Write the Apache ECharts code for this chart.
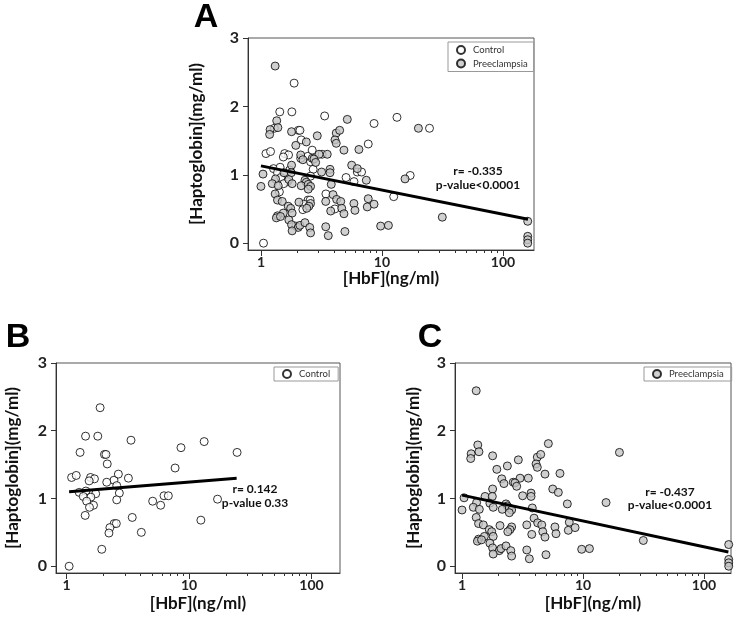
<!DOCTYPE html>
<html>
<head>
<meta charset="utf-8">
<script src="https://cdn.jsdelivr.net/npm/echarts@6/dist/echarts.min.js"></script>
<style>html,body{margin:0;padding:0;background:#fff}#c{width:738px;height:622px}</style>
</head>
<body>
<div id="c"></div>
<script>
// ---- data (HbF in ng/ml, Haptoglobin in mg/ml) ----
const ctrlHbF = [1.88,1.43,1.80,3.36,8.6,1.29,2.04,2.10,7.7,2.15,1.10,1.20,1.57,1.69,1.53,2.44,2.65,3.2,2.13,2.57,2.70,1.27,1.44,1.73,1.37,1.58,1.46,1.66,1.54,2.57,5.05,5.87,6.25,6.78,1.42,3.44,2.45,2.55,2.26,2.22,4.08,1.94,1.05,12.5,13.3,24.7,17.1];
const ctrlHp  = [2.34,1.92,1.92,1.86,1.75,1.68,1.65,1.65,1.45,1.51,1.31,1.34,1.31,1.29,1.26,1.27,1.36,1.30,1.24,1.19,1.08,1.09,1.11,1.07,1.03,1.02,0.96,0.90,0.87,0.98,0.96,0.90,1.04,1.04,0.75,0.72,0.63,0.63,0.57,0.49,0.50,0.25,0.00,0.68,1.84,1.68,0.99];
const preHbF = [1.31,1.35,5.17,1.19,1.38,1.79,2.92,4.19,4.47,1.18,4.09,4.19,2.37,1.94,4.85,6.45,3.53,3.02,2.13,2.22,2.65,2.74,2.83,1.79,5.62,6.25,3.72,3.72,3.17,1.55,1.78,1.04,1.32,1.70,2.31,2.37,7.42,1.24,1.39,1.00,1.81,2.15,2.46,2.57,2.46,3.81,1.31,1.37,1.50,1.68,1.76,1.53,1.81,1.37,1.34,1.45,1.70,2.06,2.57,2.49,2.39,3.43,3.94,4.22,4.56,3.77,4.65,4.85,5.86,5.98,7.7,7.56,8.6,1.79,2.03,2.10,2.31,2.53,2.57,1.81,3.43,3.6,4.94,9.75,11.3,20,15.5,31.5,160,160,160,160];
const preHp  = [2.59,1.79,1.81,1.66,1.69,1.63,1.57,1.61,1.65,1.59,1.51,1.46,1.48,1.43,1.36,1.37,1.30,1.30,1.29,1.22,1.24,1.23,1.18,1.14,1.14,1.09,1.08,1.03,1.04,1.03,1.03,1.01,0.94,0.93,0.92,0.89,0.92,0.87,0.84,0.83,0.87,0.84,0.86,0.83,0.79,0.86,0.72,0.63,0.61,0.54,0.51,0.44,0.44,0.40,0.37,0.39,0.34,0.60,0.58,0.54,0.51,0.61,0.71,0.64,0.61,0.47,0.51,0.43,0.58,0.48,0.65,0.53,0.57,0.27,0.23,0.26,0.30,0.23,0.15,0.18,0.24,0.11,0.17,0.25,0.26,1.68,0.94,0.38,0.32,0.10,0.05,0.00];
// regression lines: [HbF, Hp] endpoints
const fitA = [[1.0,1.13],[161,0.35]];
const fitB = [[1.05,1.10],[24.5,1.30]];
const fitC = [[1.0,1.05],[159,0.21]];
const statsA = ['r= -0.335','p-value<0.0001'];
const statsB = ['r= 0.142','p-value 0.33'];
const statsC = ['r= -0.437','p-value<0.0001'];
const panelLetters = ['A','B','C'];
const xTickLabels = [1,10,100];
const xMinorTicks = [2,3,4,5,6,7,8,9,20,30,40,50,60,70,80,90];
const yTickLabels = [0,1,2,3];
const seriesNames = ['Control','Preeclampsia'];
const xTitle = '[HbF](ng/ml)';
const yTitle = '[Haptoglobin](mg/ml)';

// ---- build ----
const lg = v => Math.log10(v);
const pts = (xs, ys) => xs.map((x,i)=>[lg(x), ys[i]]);
const fitPts = f => f.map(p=>[lg(p[0]), p[1]]);

const FONT = 'Lato';
const axisColor = '#333';
const grids = [
  {left:248, top:38, width:286, height:212, xmin:-0.107, xmax:2.256, yGap:43, xGap:17},
  {left:56,  top:363, width:284, height:210, xmin:-0.086, xmax:2.233, yGap:35, xGap:22},
  {left:455, top:363, width:276, height:210, xmin:-0.058, xmax:2.223, yGap:33, xGap:22}
];

const xAxes = [], yAxes = [];
grids.forEach((g, i) => {
  xAxes.push({
    type:'value', gridIndex:i, position:'bottom', min:g.xmin, max:g.xmax,
    axisLine:{show:true, onZero:false, lineStyle:{color:axisColor, width:1}},
    axisTick:{show:true, customValues:xTickLabels.map(lg), length:6, lineStyle:{color:axisColor}},
    axisLabel:{customValues:xTickLabels.map(lg), formatter:v=>String(Math.round(Math.pow(10,v))),
      fontFamily:FONT, fontWeight:'bold', fontSize:14, color:'#222', margin:5},
    splitLine:{show:false},
    name:xTitle, nameLocation:'middle', nameGap:g.xGap,
    nameTextStyle:{fontFamily:FONT, fontWeight:'bold', fontSize:17, color:'#111'}
  });
  yAxes.push({
    type:'value', gridIndex:i, position:'left', min:-0.1, max:3,
    axisLine:{show:true, onZero:false, lineStyle:{color:axisColor, width:1}},
    axisTick:{show:true, customValues:yTickLabels, length:5, lineStyle:{color:axisColor}},
    axisLabel:{customValues:yTickLabels, fontFamily:FONT, fontWeight:'bold', fontSize:16, color:'#222', margin:9},
    splitLine:{show:false},
    name:yTitle, nameLocation:'middle', nameGap:g.yGap, nameRotate:90,
    nameTextStyle:{fontFamily:FONT, fontWeight:'bold', fontSize:17, color:'#111'}
  });
});
grids.forEach((g, i) => {
  const minor = xMinorTicks.map(lg).filter(v => v > g.xmin && v < g.xmax);
  xAxes.push({
    type:'value', gridIndex:i, position:'bottom', min:g.xmin, max:g.xmax,
    axisLine:{show:false, onZero:false}, axisLabel:{show:false}, splitLine:{show:false},
    axisTick:{show:true, customValues:minor, length:3, lineStyle:{color:axisColor}}
  });
});

const ctrlStyle = {color:'#ffffff', borderColor:'#000', borderWidth:1};
const preStyle  = {color:'#c4c4c4', borderColor:'#000', borderWidth:1};
const scatter = (name, data, gi, style) => ({
  name, type:'scatter', xAxisIndex:gi, yAxisIndex:gi, data, symbol:'circle', symbolSize:8,
  itemStyle:style, emphasis:{disabled:true}, z:3
});
const fitLine = (data, gi) => ({
  type:'line', xAxisIndex:gi, yAxisIndex:gi, data:fitPts(data), showSymbol:false, symbol:'none',
  lineStyle:{color:'#000', width:3}, z:4, silent:true
});

const series = [
  scatter(seriesNames[0], pts(ctrlHbF, ctrlHp), 0, ctrlStyle),
  scatter(seriesNames[1], pts(preHbF, preHp), 0, preStyle),
  fitLine(fitA, 0),
  scatter(seriesNames[0], pts(ctrlHbF, ctrlHp), 1, ctrlStyle),
  fitLine(fitB, 1),
  scatter(seriesNames[1], pts(preHbF, preHp), 2, preStyle),
  fitLine(fitC, 2)
];

const legendBase = {
  orient:'vertical', itemWidth:14, itemHeight:8, itemGap:3.5,
  borderColor:'#999', borderWidth:1, padding:[3,6,3,8],
  textStyle:{fontFamily:FONT, fontSize:9.5, color:'#333'}, selectedMode:false
};
const legends = [
  Object.assign({}, legendBase, {left:448, top:42, data:seriesNames}),
  Object.assign({}, legendBase, {left:274, top:367, padding:[2,8,2,8], data:[seriesNames[0]]}),
  Object.assign({}, legendBase, {left:644, top:367, padding:[2,8,2,8], data:[seriesNames[1]]})
];

const statStyle = {fontFamily:FONT, fontWeight:'bold', fontSize:12, fill:'#111', align:'center', verticalAlign:'middle'};
const letterStyle = {fontFamily:'Liberation Sans', fontWeight:'bold', fontSize:34, fill:'#000', align:'center', verticalAlign:'middle'};
const T = (x, y, t, st) => ({type:'text', x, y, style:Object.assign({text:t}, st)});
const graphics = [
  T(478,171,statsA[0],statStyle), T(478,185,statsA[1],statStyle),
  T(255,489,statsB[0],statStyle), T(255,503,statsB[1],statStyle),
  T(670,492,statsC[0],statStyle), T(670,505,statsC[1],statStyle),
  T(206,18,panelLetters[0],letterStyle),
  T(18,338,panelLetters[1],letterStyle),
  T(430,338,panelLetters[2],letterStyle)
];

const chart = echarts.init(document.getElementById('c'), null, {renderer:'canvas'});
chart.setOption({
  animation:false,
  backgroundColor:'#fff',
  grid: grids.map(g => ({left:g.left, top:g.top, width:g.width, height:g.height, show:true, borderColor:'#555', borderWidth:1, backgroundColor:'transparent'})),
  xAxis: xAxes,
  yAxis: yAxes,
  legend: legends,
  series,
  graphic: graphics
});
</script>
</body>
</html>
